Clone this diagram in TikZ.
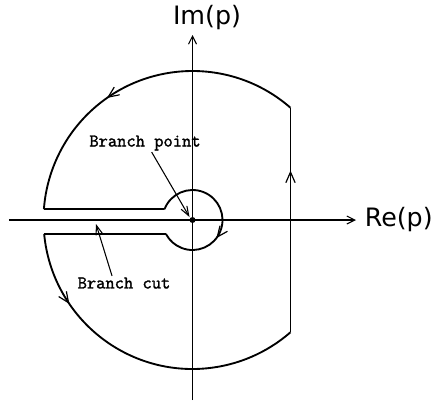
\documentclass[tikz,border=0pt]{standalone}
\usepackage{fontspec}
\newfontfamily\axfont{DejaVu Sans}
\newfontfamily\ttb{Latin Modern Mono}[FakeBold=1.6]
\usetikzlibrary{arrows.meta,decorations.markings}
\tikzset{
  contour/.style={line width=1.4pt, line join=round},
  axis/.style={line width=0.8pt, -{Straight Barb[length=6pt,width=6pt]}},
  cutline/.style={line width=1.6pt},
  lbl/.style={line width=0.8pt, -{Straight Barb[length=7pt,width=5pt]}},
  midarrow/.style={postaction={decorate, decoration={markings,
      mark=at position #1 with {\arrow[line width=0.9pt]{Straight Barb[length=8pt,width=7pt]}}}}},
  axlabel/.style={font=\axfont\fontsize{19}{22}\selectfont, inner sep=0pt},
  ttlabel/.style={font=\ttb\fontsize{13.5}{15}\selectfont, inner sep=1pt},
  dotnode/.style={circle, fill=black, inner sep=0pt, minimum size=4.5pt}
}
\begin{document}
\begin{tikzpicture}[x=0.75pt,y=0.75pt]
\useasboundingbox (-192.5,-184) rectangle (248.5,220);
% axes
\node[dotnode] (O) at (0,0) {};
\coordinate (reL) at (-183.5,0);
\coordinate (reR) at (163.5,0);
\coordinate (imB) at (0,-180);
\coordinate (imT) at (0,185);
\draw[cutline] (reL) -- (O.center);
\draw[axis] (O.center) -- (reR);
\draw[axis] (imB) -- (imT);
\node[axlabel, anchor=west] (re) at (172,0) {Re(p)};
\node[axlabel] (im) at (14.5,202) {Im(p)};
% contour pieces
\draw[contour, midarrow=0.72] (98,-112.3) -- (98,112.3);
\draw[contour, midarrow=0.6] (48.9:149) arc[start angle=48.9, end angle=175.77, radius=149];
\draw[contour] (175.77:149) -- (158.5:30);
\draw[contour, midarrow=0.63] (158.5:30) arc[start angle=158.5, end angle=-152.2, radius=30];
\draw[contour] (-152.2:30) -- (185.37:149);
\draw[contour, midarrow=0.23] (185.37:149) arc[start angle=185.37, end angle=311.1, radius=149];
% labels
\node[ttlabel] (bp) at (-47.5,77) {Branch point};
\node[ttlabel] (bc) at (-68.5,-63) {Branch cut};
\coordinate (cutpt) at (-96.5,-4);
\draw[lbl] ([xshift=5]bp.south) -- ([shift={(-3,3)}]O.center);
\draw[lbl] ([xshift=-9]bc.north) -- (cutpt);
\end{tikzpicture}
\end{document}
